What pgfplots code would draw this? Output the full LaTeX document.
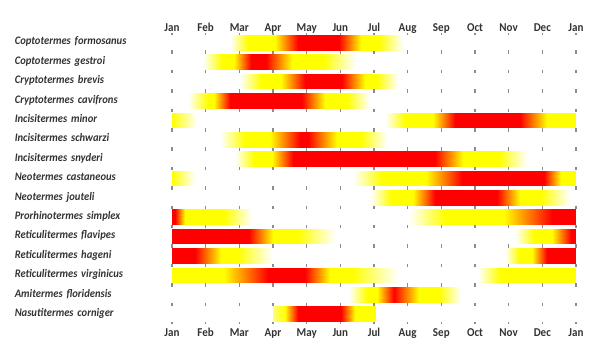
\documentclass[border=0pt]{standalone}
\usepackage{pgfplots}
\pgfplotsset{compat=1.18}
\usepackage{fontspec}
\setmainfont{Carlito}
\newfontfamily\lblfont[FakeStretch=0.92]{Carlito}
\definecolor{lbl}{HTML}{333333}
\definecolor{gridc}{HTML}{8C8C8C}
\begin{document}
\begin{tikzpicture}
\path[use as bounding box] (-172bp,-27.3bp) rectangle (440bp,323.7bp);
\begin{axis}[
  at={(0,0)}, anchor=south west,
  scale only axis, width=404bp, height=290.9bp,
  xmin=0, xmax=12, ymin=0.5, ymax=15.5, y dir=reverse,
  axis line style={draw=none},
  major tick length=0pt,
  xtick={0,...,12},
  xticklabels={Jan,Feb,Mar,Apr,May,Jun,Jul,Aug,Sep,Oct,Nov,Dec,Jan},
  xticklabel style={font=\lblfont\bfseries\fontsize{12bp}{12bp}\selectfont, text=lbl, yshift=-0.5bp},
  ytick={1,...,15},
  yticklabels={Coptotermes formosanus,Coptotermes gestroi,Cryptotermes brevis,Cryptotermes cavifrons,Incisitermes minor,Incisitermes schwarzi,Incisitermes snyderi,Neotermes castaneous,Neotermes jouteli,Prorhinotermes simplex,Reticulitermes flavipes,Reticulitermes hageni,Reticulitermes virginicus,Amitermes floridensis,Nasutitermes corniger},
  yticklabel style={font=\lblfont\bfseries\itshape\fontsize{11.5bp}{12bp}\selectfont, text=lbl, anchor=east, inner sep=0pt, text width=157bp, align=left},
  typeset ticklabels with strut,
  xmajorgrids,
  grid style={draw=gridc, line width=1.2bp, dash pattern=on 3.5bp off 15.8933bp, dash phase=1.75bp},
  colormap={heat}{rgb255=(255,255,255) rgb255=(255,255,0) rgb255=(255,0,0)},
  point meta min=0, point meta max=2,
]
% 1 Coptotermes formosanus
\addplot[surf, shader=interp, point meta=explicit] table[meta=c] {
x y c
1.72 0.61 0
2.25 0.61 1
3.05 0.61 1
3.75 0.61 2
4.95 0.61 2
5.62 0.61 1
6.15 0.61 1
6.87 0.61 0

1.72 1.39 0
2.25 1.39 1
3.05 1.39 1
3.75 1.39 2
4.95 1.39 2
5.62 1.39 1
6.15 1.39 1
6.87 1.39 0
};
% 2 Coptotermes gestroi
\addplot[surf, shader=interp, point meta=explicit] table[meta=c] {
x y c
0.92 1.61 0
1.48 1.61 1
1.85 1.61 1
2.35 1.61 2
2.80 1.61 2
3.55 1.61 1
4.50 1.61 1
5.48 1.61 0

0.92 2.39 0
1.48 2.39 1
1.85 2.39 1
2.35 2.39 2
2.80 2.39 2
3.55 2.39 1
4.50 2.39 1
5.48 2.39 0
};
% 3 Cryptotermes brevis
\addplot[surf, shader=interp, point meta=explicit] table[meta=c] {
x y c
2.02 2.61 0
2.65 2.61 1
3.25 2.61 1
3.95 2.61 2
5.04 2.61 2
5.72 2.61 1
6.10 2.61 1
6.72 2.61 0

2.02 3.39 0
2.65 3.39 1
3.25 3.39 1
3.95 3.39 2
5.04 3.39 2
5.72 3.39 1
6.10 3.39 1
6.72 3.39 0
};
% 4 Cryptotermes cavifrons
\addplot[surf, shader=interp, point meta=explicit] table[meta=c] {
x y c
0.49 3.61 0
1.08 3.61 1
1.25 3.61 1
1.72 3.61 2
3.85 3.61 2
4.55 3.61 1
5.20 3.61 1
5.88 3.61 0

0.49 4.39 0
1.08 4.39 1
1.25 4.39 1
1.72 4.39 2
3.85 4.39 2
4.55 4.39 1
5.20 4.39 1
5.88 4.39 0
};
% 5 Incisitermes minor
\addplot[surf, shader=interp, point meta=explicit] table[meta=c] {
x y c
0.00 4.61 1
0.73 4.61 0
6.33 4.61 0
6.92 4.61 1
7.75 4.61 1
8.42 4.61 2
10.35 4.61 2
11.15 4.61 1
12.00 4.61 1

0.00 5.39 1
0.73 5.39 0
6.33 5.39 0
6.92 5.39 1
7.75 5.39 1
8.42 5.39 2
10.35 5.39 2
11.15 5.39 1
12.00 5.39 1
};
% 6 Incisitermes schwarzi
\addplot[surf, shader=interp, point meta=explicit] table[meta=c] {
x y c
1.43 5.61 0
2.17 5.61 1
2.90 5.61 1
3.80 5.61 2
4.05 5.61 2
4.90 5.61 1
5.60 5.61 1
6.38 5.61 0

1.43 6.39 0
2.17 6.39 1
2.90 6.39 1
3.80 6.39 2
4.05 6.39 2
4.90 6.39 1
5.60 6.39 1
6.38 6.39 0
};
% 7 Incisitermes snyderi
\addplot[surf, shader=interp, point meta=explicit] table[meta=c] {
x y c
1.87 6.61 0
2.45 6.61 1
2.96 6.61 1
3.60 6.61 2
7.80 6.61 2
8.65 6.61 1
9.70 6.61 1
10.53 6.61 0

1.87 7.39 0
2.45 7.39 1
2.96 7.39 1
3.60 7.39 2
7.80 7.39 2
8.65 7.39 1
9.70 7.39 1
10.53 7.39 0
};
% 8 Neotermes castaneous
\addplot[surf, shader=interp, point meta=explicit] table[meta=c] {
x y c
0.00 7.61 1
0.68 7.61 0
5.38 7.61 0
6.25 7.61 1
7.55 7.61 1
8.60 7.61 2
11.05 7.61 2
11.55 7.61 1
12.00 7.61 1

0.00 8.39 1
0.68 8.39 0
5.38 8.39 0
6.25 8.39 1
7.55 8.39 1
8.60 8.39 2
11.05 8.39 2
11.55 8.39 1
12.00 8.39 1
};
% 9 Neotermes jouteli
\addplot[surf, shader=interp, point meta=explicit] table[meta=c] {
x y c
5.91 8.61 0
6.50 8.61 1
7.15 8.61 1
7.80 8.61 2
9.65 8.61 2
10.35 8.61 1
10.95 8.61 1
11.82 8.61 0

5.91 9.39 0
6.50 9.39 1
7.15 9.39 1
7.80 9.39 2
9.65 9.39 2
10.35 9.39 1
10.95 9.39 1
11.82 9.39 0
};
% 10 Prorhinotermes simplex
\addplot[surf, shader=interp, point meta=explicit] table[meta=c] {
x y c
0.00 9.61 2
0.10 9.61 2
0.40 9.61 1
1.55 9.61 1
2.37 9.61 0
7.05 9.61 0
8.12 9.61 1
9.85 9.61 1
11.30 9.61 2
12.00 9.61 2

0.00 10.39 2
0.10 10.39 2
0.40 10.39 1
1.55 10.39 1
2.37 10.39 0
7.05 10.39 0
8.12 10.39 1
9.85 10.39 1
11.30 10.39 2
12.00 10.39 2
};
% 11 Reticulitermes flavipes
\addplot[surf, shader=interp, point meta=explicit] table[meta=c] {
x y c
0.00 10.61 2
2.30 10.61 2
3.00 10.61 1
3.75 10.61 1
4.85 10.61 0
10.20 10.61 0
10.75 10.61 1
11.30 10.61 1
11.85 10.61 2
12.00 10.61 2

0.00 11.39 2
2.30 11.39 2
3.00 11.39 1
3.75 11.39 1
4.85 11.39 0
10.20 11.39 0
10.75 11.39 1
11.30 11.39 1
11.85 11.39 2
12.00 11.39 2
};
% 12 Reticulitermes hageni
\addplot[surf, shader=interp, point meta=explicit] table[meta=c] {
x y c
0.00 11.61 2
0.68 11.61 2
1.45 11.61 1
1.97 11.61 1
2.96 11.61 0
9.90 11.61 0
10.30 11.61 1
10.70 11.61 1
11.15 11.61 2
12.00 11.61 2

0.00 12.39 2
0.68 12.39 2
1.45 12.39 1
1.97 12.39 1
2.96 12.39 0
9.90 12.39 0
10.30 12.39 1
10.70 12.39 1
11.15 12.39 2
12.00 12.39 2
};
% 13 Reticulitermes virginicus
\addplot[surf, shader=interp, point meta=explicit] table[meta=c] {
x y c
0.00 12.61 1
1.55 12.61 1
2.85 12.61 2
3.95 12.61 2
4.70 12.61 1
5.35 12.61 1
6.70 12.61 0
9.10 12.61 0
9.75 12.61 1
12.00 12.61 1

0.00 13.39 1
1.55 13.39 1
2.85 13.39 2
3.95 13.39 2
4.70 13.39 1
5.35 13.39 1
6.70 13.39 0
9.10 13.39 0
9.75 13.39 1
12.00 13.39 1
};
% 14 Amitermes floridensis
\addplot[surf, shader=interp, point meta=explicit] table[meta=c] {
x y c
5.27 13.61 0
5.80 13.61 1
6.10 13.61 1
6.60 13.61 2
7.33 13.61 1
7.92 13.61 1
8.58 13.61 0

5.27 14.39 0
5.80 14.39 1
6.10 14.39 1
6.60 14.39 2
7.33 14.39 1
7.92 14.39 1
8.58 14.39 0
};
% 15 Nasutitermes corniger
\addplot[surf, shader=interp, point meta=explicit] table[meta=c] {
x y c
3.00 14.61 0.55
3.35 14.61 1
3.75 14.61 2
5.02 14.61 2
5.45 14.61 1
6.05 14.61 1

3.00 15.39 0.55
3.35 15.39 1
3.75 15.39 2
5.02 15.39 2
5.45 15.39 1
6.05 15.39 1
};
\end{axis}
\begin{axis}[
  at={(0,0)}, anchor=south west,
  scale only axis, width=404bp, height=290.9bp,
  xmin=0, xmax=12, ymin=0.5, ymax=15.5,
  axis line style={draw=none},
  major tick length=0pt,
  xtick={0,...,12},
  xticklabels={Jan,Feb,Mar,Apr,May,Jun,Jul,Aug,Sep,Oct,Nov,Dec,Jan},
  xticklabel pos=upper,
  xticklabel style={font=\lblfont\bfseries\fontsize{12bp}{12bp}\selectfont, text=lbl, yshift=-6bp},
  typeset ticklabels with strut,
  ytick=\empty,
]
\end{axis}
\end{tikzpicture}
\end{document}
